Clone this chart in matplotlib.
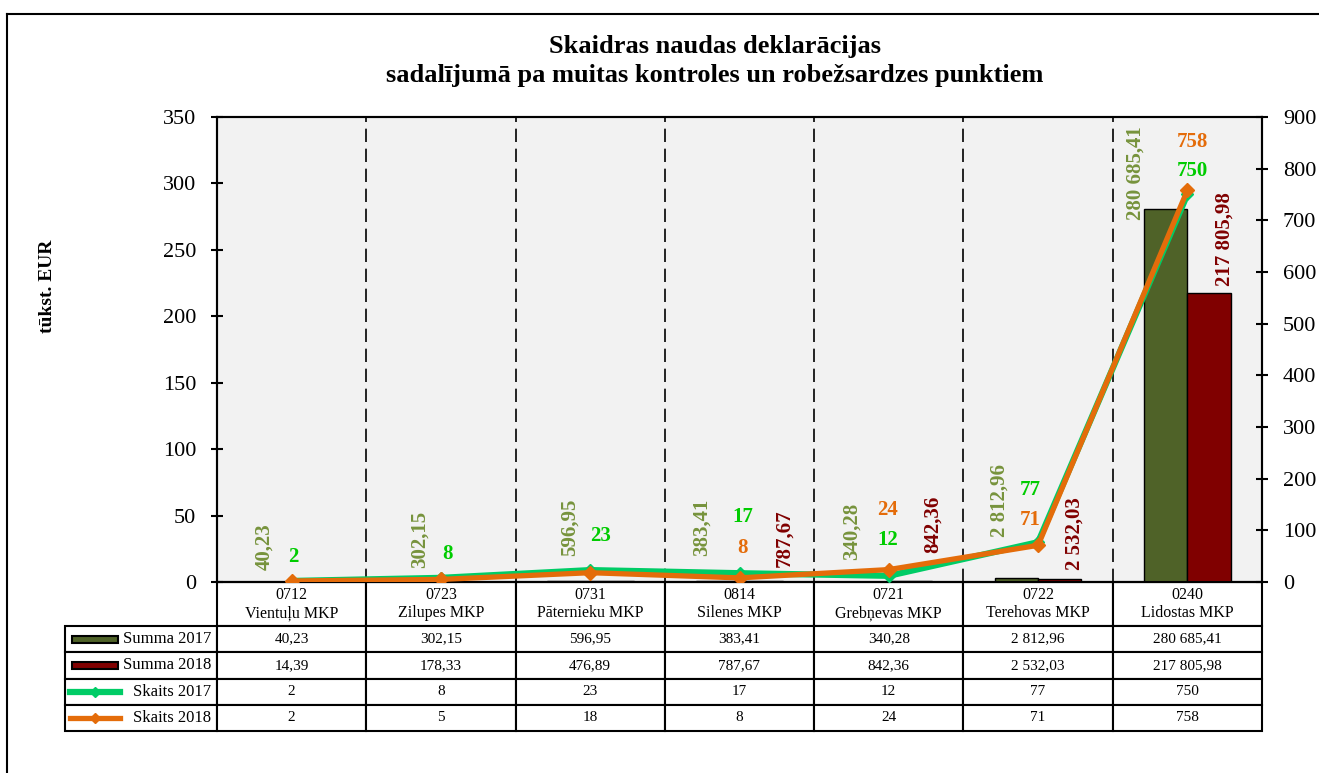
import matplotlib.pyplot as plt
from matplotlib.lines import Line2D
from matplotlib.patches import Rectangle
import numpy as np

plt.rcParams['font.family'] = ['Liberation Serif', 'DejaVu Serif']

# data
codes = ['0712', '0723', '0731', '0814', '0721', '0722', '0240']
places = ['Vientuļu MKP', 'Zilupes MKP', 'Pāternieku MKP', 'Silenes MKP',
          'Grebņevas MKP', 'Terehovas MKP', 'Lidostas MKP']
summa_2017 = [40.23, 302.15, 596.95, 383.41, 340.28, 2812.96, 280685.41]
summa_2018 = [14.39, 178.33, 476.89, 787.67, 842.36, 2532.03, 217805.98]
skaits_2017 = [2, 8, 23, 17, 12, 77, 750]
skaits_2018 = [2, 5, 18, 8, 24, 71, 758]
row_labels = ['Summa 2017', 'Summa 2018', 'Skaits 2017', 'Skaits 2018']

# label placement (pixel offsets, None = label not shown)
s17_dx = [-27, -21, -20, -38, -37, -38, -52]
s17_dy = [12, 14, 25, 25, 22, 41, -11]
s18_dx = [None, None, None, 45, 44, 37, 37]
s18_dy = [None, None, None, 14, 28, 9, 7]
k17_dx = [2, 7, 10, 3, -1, -8, 5]
k17_dy = [24, 24, 34, 56, 36, 52, 23]
k18_dx = [None, None, None, 3, -1, -8, 5]
k18_dy = [None, None, None, 30, 60, 25, 48]

c_s17, c_s18 = '#4F6228', '#800000'
c_k17, c_k18 = '#00CC66', '#E46C0A'
W, H = 1319, 773


def fmt(v):
    return f"{v:,.2f}".replace(",", " ").replace(".", ",")


def fx(px):
    return px / W


def fy(py):
    return 1 - py / H


fig = plt.figure(figsize=(W / 100, H / 100), dpi=100)
ax = fig.add_axes([fx(217), fy(582), 1045 / W, 465 / H])
ax.set_facecolor('#F2F2F2')

x = np.arange(len(codes))
bw = 0.29
ax.bar(x - bw / 2, np.array(summa_2017) / 1000, bw, color=c_s17,
       edgecolor='black', linewidth=1, zorder=3)
ax.bar(x + bw / 2, np.array(summa_2018) / 1000, bw, color=c_s18,
       edgecolor='black', linewidth=1, zorder=3)
ax.set_xlim(-0.5, 6.5)
ax.set_ylim(0, 350)
ax.set_yticks(np.arange(0, 351, 50))
ax.set_xticks([])
for b in np.arange(0.5, 6.5):
    ax.axvline(b, color='black', lw=1.2, ls=(0, (8, 4)), zorder=1)
ax.tick_params(axis='y', direction='inout', length=8, width=1.5,
               labelsize=16, pad=11)
for s in ax.spines.values():
    s.set_linewidth(1.5)

for i, v in enumerate(summa_2017):
    ax.annotate(fmt(v), xy=(i, v / 1000), xytext=(s17_dx[i], s17_dy[i]),
                textcoords='offset pixels', rotation=90, ha='center',
                va='bottom', color='#77933C', fontsize=15, weight='bold',
                zorder=5)
for i, v in enumerate(summa_2018):
    if s18_dx[i] is None:
        continue
    ax.annotate(fmt(v), xy=(i, v / 1000), xytext=(s18_dx[i], s18_dy[i]),
                textcoords='offset pixels', rotation=90, ha='center',
                va='bottom', color='#800000', fontsize=15, weight='bold',
                zorder=5)

# data table under the plot (first column holds the series names)
cell_text = [[row_labels[0]] + [fmt(v) for v in summa_2017],
             [row_labels[1]] + [fmt(v) for v in summa_2018],
             [row_labels[2]] + [str(v) for v in skaits_2017],
             [row_labels[3]] + [str(v) for v in skaits_2018]]
col_labels = [''] + [f'{c}\n{p}' for c, p in zip(codes, places)]
tbl = ax.table(cellText=cell_text, colLabels=col_labels, cellLoc='center',
               colWidths=[152] + [149.3] * 7,
               bbox=[-152 / 1045, -149 / 465, 1197 / 1045, 149 / 465])
tbl.auto_set_font_size(False)
for (r, c), cell in tbl.get_celld().items():
    cell.set_linewidth(1.5)
    cell.set_height(44 if r == 0 else 26.25)
    cell.get_text().set_fontsize(11.5 if r == 0 else 11)
    if c == 0:
        if r == 0:
            cell.set_visible(False)
        cell.PAD = 0.04
        cell.get_text().set_ha('right')
        cell.get_text().set_fontsize(12)

ax2 = ax.twinx()
ax2.plot(x, skaits_2017, color=c_k17, lw=4.5, marker='D', ms=6, zorder=3)
ax2.plot(x, skaits_2018, color=c_k18, lw=3.8, marker='D', ms=7, zorder=4)
ax2.set_ylim(0, 900)
ax2.set_yticks(np.arange(0, 901, 100))
ax2.tick_params(axis='y', direction='inout', length=8, width=1.5,
                labelsize=16, pad=11)
for s in ax2.spines.values():
    s.set_linewidth(1.5)

for i, v in enumerate(skaits_2017):
    ax2.annotate(str(v), xy=(i, v), xytext=(k17_dx[i], k17_dy[i]),
                 textcoords='offset pixels', ha='center', va='center',
                 color='#00CC00', fontsize=15, weight='bold')
for i, v in enumerate(skaits_2018):
    if k18_dx[i] is None:
        continue
    ax2.annotate(str(v), xy=(i, v), xytext=(k18_dx[i], k18_dy[i]),
                 textcoords='offset pixels', ha='center', va='center',
                 color='#E46C0A', fontsize=15, weight='bold')

# legend keys in the row label cells
row_y = [639, 665.4, 691.6, 717.9]
for py, col in zip(row_y[:2], [c_s17, c_s18]):
    fig.add_artist(Rectangle((fx(72), fy(py + 3.5)), 46 / W, 7 / H,
                             transform=fig.transFigure, facecolor=col,
                             edgecolor='black', lw=1.5, zorder=5))
for py, col, lw in zip(row_y[2:], [c_k17, c_k18], [4.5, 3.8]):
    fig.add_artist(Line2D([fx(70), fx(120)], [fy(py), fy(py)], color=col,
                          lw=lw, transform=fig.transFigure, zorder=5))
    fig.add_artist(Line2D([fx(95)], [fy(py)], color=col, marker='D', ms=5,
                          transform=fig.transFigure, zorder=5))

fig.text(fx(715), fy(61),
         'Skaidras naudas deklarācijas\nsadalījumā pa muitas kontroles un robežsardzes punktiem',
         ha='center', va='center', fontsize=19, weight='bold', linespacing=1.3)
fig.text(fx(47), fy(286), 'tūkst. EUR', rotation=90, ha='center', va='center',
         fontsize=14, weight='bold')

# outer chart border
fig.add_artist(Line2D([fx(7), fx(7)], [fy(14), 0], color='black', lw=1.5,
                      transform=fig.transFigure))
fig.add_artist(Line2D([fx(7), 1], [fy(14), fy(14)], color='black', lw=1.5,
                      transform=fig.transFigure))

fig.savefig('out.png', dpi=100)
